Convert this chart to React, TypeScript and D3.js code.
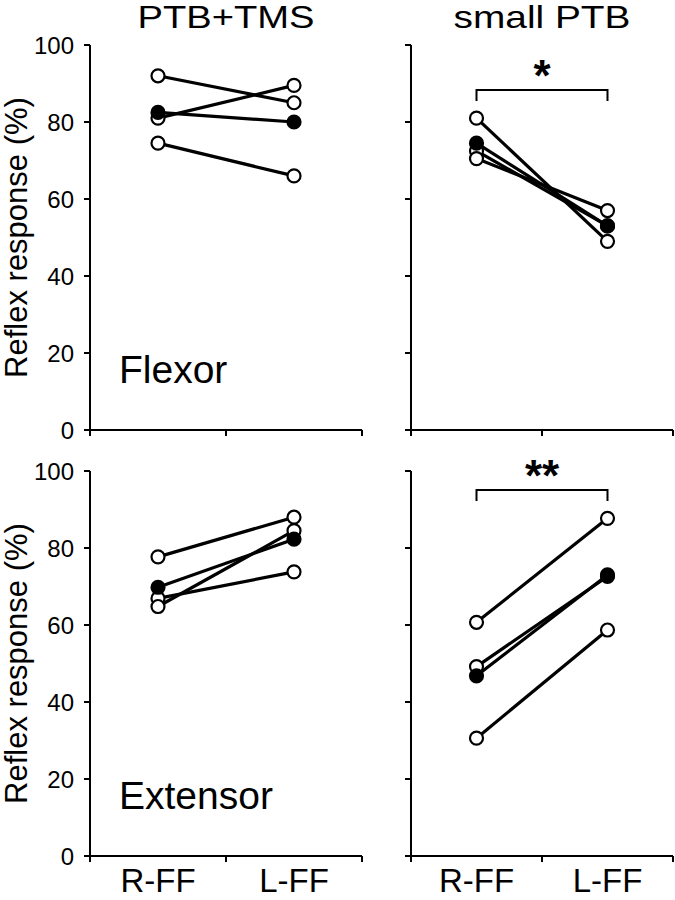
import React from "react";
import * as d3 from "d3";

// values (Reflex response, %)
const categories = ["R-FF", "L-FF"];
const yTicks = [0, 20, 40, 60, 80, 100];

const flexorTmsR = [92, 81, 74.5];
const flexorTmsL = [85, 89.5, 66];
const flexorTmsMean = [82.5, 80];

const flexorSmallR = [81, 72.5, 70.5];
const flexorSmallL = [49, 53, 57];
const flexorSmallMean = [74.5, 53];

const extensorTmsR = [77.7, 66.9, 64.8];
const extensorTmsL = [88, 73.8, 84.5];
const extensorTmsMean = [69.8, 82.3];

const extensorSmallR = [60.7, 49.2, 30.6];
const extensorSmallL = [87.7, 72.6, 58.7];
const extensorSmallMean = [46.8, 73];

const FONT = "'Liberation Sans', Arial, Helvetica, sans-serif";

type PanelProps = {
  left: number;
  width: number;
  top: number;
  bottom: number;
  rVals: number[];
  lVals: number[];
  mean: number[];
  title?: string;
  label?: string;
  yAxisLabels?: boolean;
  xLabels?: boolean;
  sig?: string;
  sigY?: number;
};

const Panel = ({left, width, top, bottom, rVals, lVals, mean, title, label, yAxisLabels, xLabels, sig, sigY}: PanelProps) => {
  const x = d3.scalePoint<string>().domain(categories).range([left, left + width]).padding(0.5);
  const y = d3.scaleLinear().domain([0, 100]).range([bottom, top]);
  const line = d3.line<[string, number]>().x(d => x(d[0]) as number).y(d => y(d[1]));

  const pairs = rVals.map((r, i) => [[categories[0], r], [categories[1], lVals[i]]] as [string, number][]);
  const meanPair = mean.map((v, i) => [categories[i], v] as [string, number]);
  const xTicks = [left, left + width / 2, left + width];
  const cx = left + width / 2;
  const xa = x(categories[0]) as number;
  const xb = x(categories[1]) as number;

  return (
    <g>
      {/* axes */}
      <line x1={left} x2={left} y1={top} y2={bottom} stroke="#000" strokeWidth={2} />
      <line x1={left - 1} x2={left + width} y1={bottom} y2={bottom} stroke="#000" strokeWidth={2} />
      {yTicks.map(t => (
        <g key={t}>
          <line x1={left - 6} x2={left} y1={y(t)} y2={y(t)} stroke="#000" strokeWidth={2} />
          {yAxisLabels && (
            <text x={left - 16} y={y(t)} dy="0.36em" textAnchor="end" fontSize={24} fontFamily={FONT}>{t}</text>
          )}
        </g>
      ))}
      {xTicks.map((t, i) => (
        <line key={i} x1={t} x2={t} y1={bottom} y2={bottom + 6} stroke="#000" strokeWidth={2} />
      ))}
      {xLabels && categories.map(c => (
        <text key={c} x={x(c)} y={892} textAnchor="middle" fontSize={33} fontFamily={FONT}>{c}</text>
      ))}

      {title && (
        <text x={cx} y={28} textAnchor="middle" fontSize={32} fontFamily={FONT}
          textLength={177} lengthAdjust="spacingAndGlyphs">{title}</text>
      )}
      {yAxisLabels && (
        <text transform={`translate(27, ${(top + bottom) / 2}) rotate(-90)`} textAnchor="middle"
          fontSize={31} fontFamily={FONT}>Reflex response (%)</text>
      )}
      {label && (
        <text x={left + 29} y={bottom - 47} fontSize={39} fontFamily={FONT}>{label}</text>
      )}

      {sig && sigY !== undefined && (
        <g>
          <path d={`M${xa},${sigY + 11}V${sigY}H${xb}V${sigY + 11}`} fill="none" stroke="#000" strokeWidth={2} />
          <text x={cx} y={sigY + 1} textAnchor="middle" fontSize={44} fontWeight="bold" fontFamily={FONT}>{sig}</text>
        </g>
      )}

      {/* data */}
      {pairs.map((p, i) => (
        <path key={i} d={line(p) as string} fill="none" stroke="#000" strokeWidth={3.2} />
      ))}
      <path d={line(meanPair) as string} fill="none" stroke="#000" strokeWidth={3.2} />
      {pairs.map((p, i) => p.map((d, j) => (
        <circle key={`${i}-${j}`} cx={x(d[0])} cy={y(d[1])} r={6.5} fill="#fff" stroke="#000" strokeWidth={2.2} />
      )))}
      {meanPair.map((d, j) => (
        <circle key={j} cx={x(d[0])} cy={y(d[1])} r={6.5} fill="#000" stroke="#000" strokeWidth={2.2} />
      ))}
    </g>
  );
};

const App = () => {
  return (
    <svg width={675} height={900} style={{position: "absolute", left: 0, top: 0, background: "#fff"}}>
      <rect width={675} height={900} fill="#fff" />
      <Panel left={90} width={272} top={45} bottom={430} rVals={flexorTmsR} lVals={flexorTmsL} mean={flexorTmsMean}
        title="PTB+TMS" label="Flexor" yAxisLabels />
      <Panel left={411} width={262} top={45} bottom={430} rVals={flexorSmallR} lVals={flexorSmallL} mean={flexorSmallMean}
        title="small PTB" sig="*" sigY={90} />
      <Panel left={90} width={272} top={471} bottom={856} rVals={extensorTmsR} lVals={extensorTmsL} mean={extensorTmsMean}
        label="Extensor" yAxisLabels xLabels />
      <Panel left={411} width={262} top={471} bottom={856} rVals={extensorSmallR} lVals={extensorSmallL} mean={extensorSmallMean}
        sig="**" sigY={490} xLabels />
    </svg>
  );
};

export default App;
